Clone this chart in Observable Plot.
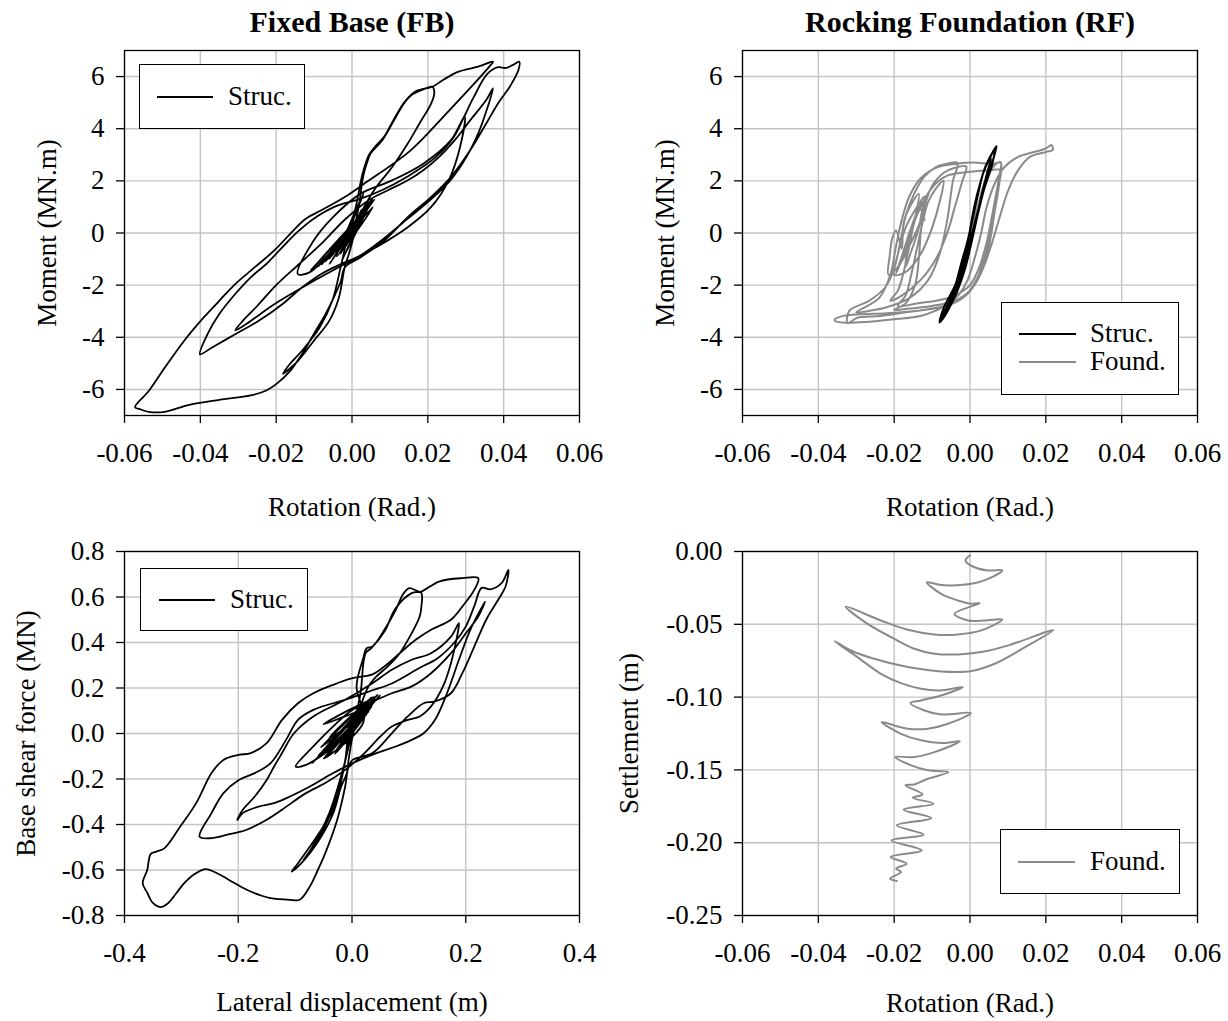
<!DOCTYPE html>
<html><head><meta charset="utf-8">
<script src="https://cdn.jsdelivr.net/npm/d3@7"></script>
<script src="https://cdn.jsdelivr.net/npm/@observablehq/plot@0.6"></script>
<style>
body{margin:0;background:#fff;}
#wrap{position:relative;width:1228px;height:1021px;background:#fff;font-family:"Liberation Serif","Times New Roman",serif;overflow:hidden;}
.panel{position:absolute;}
.legend{position:absolute;background:#fff;border:1.3px solid #000;box-sizing:border-box;}
.lg-line{position:absolute;height:2px;}
.lg-text{position:absolute;font-size:27px;line-height:27px;white-space:nowrap;color:#000;}
</style></head><body><div id="wrap"></div>
<script>
// ---------- tick values ----------
const rotTicks = [-0.06, -0.04, -0.02, 0, 0.02, 0.04, 0.06];
const momentTicks = [-6, -4, -2, 0, 2, 4, 6];
const dispTicks = [-0.4, -0.2, 0, 0.2, 0.4];
const shearTicks = [-0.8, -0.6, -0.4, -0.2, 0, 0.2, 0.4, 0.6, 0.8];
const settleTicks = [0, -0.05, -0.10, -0.15, -0.20, -0.25];

// ---------- Fixed base: rotation (rad) vs moment (MN.m), structure ----------
const fbMoment = [
[0,0],[0.0025,0.9],[-0.0015,-0.5],[0.0035,1.1],[-0.003,-0.8],[0.0045,1.2],[-0.0025,-1.0],[0.0055,1.35],[0.001,0.2],
[0.002,1.2],[0.003,2.2],[0.0042,2.8],[0.0049,3.05],[0.008,3.56],[0.0106,4.2],[0.0137,4.97],[0.0157,5.29],[0.0188,5.51],[0.0212,5.61],
[0.0217,5.36],[0.0209,4.97],[0.0178,4.2],[0.0147,3.43],[0.0106,2.53],[0.0064,1.76],[0.0033,1.0],[0.0007,-0.03],[-0.0008,-0.8],[-0.0019,-1.3],
[-0.0035,-2.5],[-0.006,-3.37],[-0.0101,-4.14],[-0.0143,-4.91],[-0.0182,-5.4],
[-0.0168,-5.1],[-0.0128,-4.45],[-0.0085,-3.62],[-0.0052,-2.6],[-0.003,-1.32],[-0.001,-0.03],[0.001,1.0],[0.0028,2.28],[0.0045,3.0],[0.006,3.3],[0.0085,3.7],[0.011,4.35],[0.014,5.05],[0.017,5.45],[0.0212,5.61],
[0.024,5.87],[0.0281,6.19],[0.0333,6.38],[0.0372,6.57],
[0.0361,6.36],[0.025,4.6],[0.0154,3.16],[0.0031,1.88],
[-0.0019,1.38],[-0.0081,0.87],[-0.0122,0.55],[-0.0163,-0.03],[-0.0205,-0.67],[-0.0257,-1.32],[-0.0308,-1.96],[-0.035,-2.6],[-0.0391,-3.24],[-0.0443,-4.14],[-0.0494,-5.17],[-0.0536,-6.06],[-0.0572,-6.68],
[-0.0557,-6.77],[-0.0536,-6.86],[-0.0494,-6.86],[-0.0432,-6.6],[-0.035,-6.4],[-0.0267,-6.23],[-0.0226,-6.04],[-0.0195,-5.74],[-0.0163,-5.29],[-0.0132,-4.65],[-0.0101,-3.88],[-0.007,-3.11],[-0.0044,-2.34],[-0.0029,-1.83],[-0.0019,-1.32],
[0.0023,-0.93],[0.0085,-0.29],[0.0147,0.61],[0.0209,1.38],[0.0261,2.15],[0.0312,3.18],[0.0354,4.2],[0.0385,4.97],[0.0416,5.61],[0.0439,6.25],[0.0441,6.57],
[0.0425,6.45],[0.0405,6.33],[0.0385,6.36],
[0.0357,6.1],[0.0321,5.21],[0.0295,4.44],[0.0268,3.67],[0.022,2.9],[0.015,2.2],[0.008,1.65],[0.002,1.3],
[-0.0039,1.05],[-0.0101,0.55],[-0.0143,0.05],[-0.0184,-0.55],[-0.0226,-1.19],[-0.0267,-1.7],[-0.0308,-2.34],[-0.035,-3.11],[-0.0381,-3.88],[-0.0401,-4.65],
[-0.037,-4.4],[-0.0308,-3.88],[-0.0246,-3.37],[-0.0184,-2.73],[-0.0132,-2.09],[-0.0081,-1.57],[-0.0029,-1.19],[0.0023,-0.85],[0.0085,-0.2],[0.0147,0.55],[0.0209,1.3],[0.0261,2.05],[0.0302,2.92],[0.0333,3.82],[0.0358,4.84],[0.0372,5.55],
[0.0354,5.1],[0.0312,4.33],[0.0271,3.56],[0.023,2.92],[0.0188,2.41],[0.0147,2.02],[0.0095,1.64],[0.0043,1.25],
[-0.002,0.5],[-0.008,-0.4],[-0.014,-1.2],[-0.02,-2.0],[-0.025,-2.8],[-0.0288,-3.37],[-0.0308,-3.73],
[-0.028,-3.5],[-0.0205,-2.73],[-0.0112,-1.93],[-0.0019,-1.19],[0.0064,-0.55],[0.0147,0.22],[0.0209,1.0],[0.0255,2.02],[0.0285,3.3],[0.0297,4.46],
[0.0261,3.56],[0.0188,2.66],[0.0106,2.02],[0.0023,1.51],[-0.005,0.61],[-0.0101,-0.29],[-0.0143,-1.57],[-0.0112,-1.51],[-0.007,-0.93],[-0.0029,-0.29],[0.0002,0.22],
[0.004,1.0],[-0.005,-0.8],[0.0055,1.25],[-0.006,-1.2],[0.002,0.6],[-0.004,-0.7],[0.003,0.9],[-0.001,-0.3],
[0.002,0.5],[-0.008,-1.2],[0.004,0.9],[-0.011,-1.45],[0.005,1.1],[-0.009,-1.3],[0.006,1.3],[-0.006,-1.0],[0.0045,1.2],[-0.004,-0.9],[0.003,1.5],[-0.002,-0.5],[0.0055,1.0],[-0.007,-1.1],[0.001,0.3],[0.0005,0.1]
];

// ---------- Fixed base: lateral displacement (m) vs base shear (MN), structure ----------
const fbShear = [
[0,0],[0.03,0.1],[-0.02,-0.05],[0.04,0.15],[-0.04,-0.09],[0.05,0.17],[-0.05,-0.11],[0.02,0.05],
[0.008,0.207],[0.019,0.324],[0.026,0.375],[0.036,0.382],[0.057,0.456],[0.077,0.544],[0.091,0.617],[0.101,0.639],[0.112,0.629],[0.122,0.617],
[0.122,0.558],[0.119,0.514],[0.105,0.441],[0.084,0.353],[0.063,0.295],[0.043,0.251],[0.029,0.207],[0.015,0.119],[0.001,-0.013],[-0.006,-0.116],[-0.009,-0.174],
[-0.019,-0.233],[-0.033,-0.35],[-0.054,-0.453],[-0.074,-0.526],[-0.095,-0.585],[-0.106,-0.607],
[-0.095,-0.57],[-0.074,-0.497],[-0.054,-0.423],[-0.033,-0.335],[-0.022,-0.24],[-0.01,-0.1],[0.005,0.06],[0.015,0.177],[0.024,0.353],[0.034,0.375],[0.057,0.448],[0.077,0.551],[0.105,0.617],[0.122,0.624],
[0.153,0.668],[0.194,0.683],[0.222,0.683],
[0.215,0.631],[0.194,0.558],[0.174,0.5],[0.139,0.456],[0.112,0.412],[0.084,0.353],[0.057,0.295],[0.036,0.26],
[0.001,0.243],[-0.033,0.214],[-0.068,0.177],[-0.095,0.133],[-0.123,0.06],[-0.15,-0.042],[-0.178,-0.086],[-0.199,-0.094],[-0.226,-0.116],[-0.247,-0.174],[-0.274,-0.306],[-0.302,-0.409],[-0.33,-0.505],[-0.345,-0.52],[-0.354,-0.53],[-0.36,-0.6],[-0.368,-0.658],
[-0.36,-0.7],[-0.35,-0.745],[-0.337,-0.763],[-0.323,-0.745],[-0.309,-0.702],[-0.295,-0.658],[-0.278,-0.62],[-0.257,-0.596],[-0.233,-0.62],[-0.209,-0.654],[-0.185,-0.687],[-0.16,-0.712],[-0.143,-0.724],[-0.109,-0.731],[-0.092,-0.731],[-0.074,-0.672],[-0.06,-0.6],[-0.047,-0.526],[-0.026,-0.379],[-0.012,-0.233],[-0.006,-0.145],
[0.001,-0.116],[0.036,-0.086],[0.07,0.001],[0.098,0.075],[0.126,0.133],[0.146,0.141],[0.174,0.177],[0.194,0.265],[0.215,0.382],[0.236,0.5],[0.257,0.588],[0.27,0.646],[0.275,0.719],
[0.263,0.661],[0.243,0.634],[0.228,0.64],
[0.215,0.56],[0.2,0.47],[0.18,0.4],[0.15,0.33],[0.12,0.29],[0.07,0.22],[0.036,0.19],[-0.01,0.15],[-0.068,0.104],[-0.095,0.06],[-0.116,-0.028],[-0.143,-0.13],[-0.171,-0.174],[-0.199,-0.204],[-0.226,-0.262],[-0.247,-0.35],[-0.268,-0.453],
[-0.247,-0.46],[-0.219,-0.445],[-0.185,-0.423],[-0.15,-0.379],[-0.123,-0.335],[-0.081,-0.262],[-0.047,-0.218],[-0.012,-0.16],[0.022,-0.086],[0.05,-0.013],[0.07,0.031],[0.098,0.06],[0.119,0.075],[0.139,0.119],[0.16,0.207],[0.174,0.309],[0.185,0.43],[0.188,0.485],
[0.174,0.426],[0.139,0.353],[0.105,0.324],[0.07,0.28],[0.036,0.221],[-0.012,0.148],[-0.068,0.075],[-0.102,0.001],[-0.123,-0.086],[-0.137,-0.145],[-0.15,-0.204],[-0.171,-0.277],[-0.192,-0.335],[-0.202,-0.38],
[-0.192,-0.35],[-0.164,-0.321],[-0.137,-0.306],[-0.109,-0.277],[-0.074,-0.233],[-0.033,-0.174],[0.001,-0.13],[0.043,-0.086],[0.077,-0.057],[0.105,-0.028],[0.126,0.001],[0.146,0.06],[0.167,0.177],[0.188,0.324],[0.208,0.456],[0.229,0.558],[0.234,0.58],
[0.222,0.514],[0.2,0.44],[0.174,0.353],[0.139,0.265],[0.105,0.207],[0.07,0.177],[0.036,0.141],[0.001,0.104],[-0.033,0.031],[-0.068,-0.057],[-0.099,-0.145],[-0.081,-0.138],[-0.047,-0.086],[-0.012,-0.013],
[-0.02,-0.22],[-0.05,-0.42],[-0.085,-0.555],[-0.07,-0.5],[-0.04,-0.35],[-0.015,-0.15],[0.01,0.1],
[0.04,0.16],[-0.03,-0.08],[0.035,0.12],[-0.045,-0.1],[0.02,0.08],[-0.02,-0.04],
[0.03,0.14],[-0.06,-0.1],[0.045,0.17],[-0.07,-0.13],[0.04,0.15],[-0.05,0.04],[0.02,0.1],[-0.055,-0.06],[0.035,0.16],[-0.04,-0.02],[0.015,0.06],[-0.03,-0.09],[0.025,0.13],[0,0]
];

// ---------- Rocking foundation: rotation (rad) vs moment (MN.m) ----------
const rfStrucMoment = [
[0,0],[0.0011,1.0],[0.0029,2.02],[0.0044,2.66],[0.006,3.11],[0.007,3.33],[0.0063,2.92],[0.005,2.28],[0.0034,1.51],[0.0019,0.61],[0.0003,-0.42],[-0.0012,-1.32],[-0.0033,-2.21],[-0.0054,-2.86],[-0.0069,-3.24],[-0.008,-3.43],
[-0.0069,-2.86],[-0.0038,-1.96],[-0.0018,-0.93],[-0.0002,-0.03],[0.0011,1.0],[0.0029,2.02],[0.0044,2.66],[0.0055,2.85],[0.0045,2.3],[0.003,1.4],[0.0015,0.4],[-0.0005,-0.8],[-0.0025,-1.8],[-0.0045,-2.6],[-0.0065,-3.1],[-0.0075,-3.3],
[-0.0055,-2.7],[-0.003,-1.8],[-0.001,-0.6],[0.0005,0.4],[0.002,1.4],[0.0035,2.3],[0.005,2.8],[0.0065,3.2],[0.0058,2.6],[0.004,1.8],[0.002,0.8],[0,-0.3],[-0.002,-1.3],[-0.004,-2.2],[-0.006,-2.9],[-0.007,-3.1],[-0.0045,-2.3],[-0.002,-1.0],[0,0]
];
const rfFoundMoment = [
[0,0],[0.002,1.0],[0.004,2.0],[0.0065,2.6],[0.0081,2.72],
[0.0075,2.0],[0.006,0.8],[0.0045,-0.5],[0.002,-1.7],[-0.002,-2.5],[-0.008,-2.85],[-0.015,-3.0],[-0.022,-3.08],[-0.029,-3.12],[-0.033,-3.17],[-0.0356,-3.3],[-0.0356,-3.37],
[-0.033,-3.44],[-0.0266,-3.4],[-0.0193,-3.3],[-0.0131,-3.18],[-0.009,-2.98],[-0.0059,-2.73],[-0.0028,-2.34],[-0.0007,-1.83],[0.0013,-0.93],[0.0029,-0.03],[0.0044,1.0],[0.0065,1.89],[0.0091,2.53],[0.0127,2.92],[0.0169,3.11],[0.02,3.24],[0.0215,3.37],[0.0218,3.18],[0.02,3.11],
[0.0158,2.92],[0.0127,2.41],[0.0101,1.64],[0.0081,0.74],[0.006,-0.29],[0.0039,-1.19],[0.0019,-1.83],[-0.0007,-2.34],[-0.0049,-2.73],[-0.0111,-2.92],[-0.0173,-3.05],[-0.0235,-3.18],[-0.0297,-3.25],[-0.0323,-3.46],
[-0.0318,-2.98],[-0.0266,-2.6],[-0.0224,-2.09],[-0.0199,-1.32],[-0.0183,-0.29],[-0.0168,0.74],[-0.0147,1.51],[-0.0121,2.15],[-0.009,2.53],[-0.0059,2.66],[-0.0033,2.69],
[-0.0045,2.0],[-0.006,0.5],[-0.008,-0.8],[-0.011,-1.8],[-0.016,-2.5],[-0.022,-2.85],[-0.027,-3.0],[-0.03,-3.05],
[-0.024,-2.5],[-0.021,-1.6],[-0.0195,-0.5],[-0.018,0.5],[-0.016,1.4],[-0.013,2.1],[-0.009,2.5],[-0.004,2.65],[0.001,2.7],[0.006,2.65],[0.0081,2.7],
[0.0078,2.0],[0.0065,0.8],[0.005,-0.5],[0.003,-1.5],[0,-2.2],[-0.004,-2.6],[-0.01,-2.8],[-0.016,-2.9],[-0.02,-2.95],
[-0.017,-2.7],[-0.0145,-2.0],[-0.0135,-1.0],[-0.013,0],[-0.012,1.0],[-0.01,1.8],[-0.007,2.3],[-0.004,2.5],[-0.001,2.55],
[-0.002,2.0],[-0.004,1.0],[-0.006,0],[-0.009,-1.0],[-0.013,-1.8],[-0.018,-2.4],[-0.021,-2.6],
[-0.019,-2.2],[-0.0175,-1.5],[-0.016,-0.5],[-0.0145,0.5],[-0.012,1.3],[-0.009,1.9],[-0.006,2.2],[0,2.35],[0.005,2.4],[0.008,2.41],
[0.0075,1.8],[0.006,0.8],[0.0045,-0.3],[0.0025,-1.3],[0,-2.0],[-0.004,-2.4],[-0.009,-2.6],[-0.014,-2.7],[-0.019,-2.8],
[-0.017,-2.4],[-0.0155,-1.6],[-0.014,-0.6],[-0.0125,0.4],[-0.011,1.2],[-0.009,1.7],[-0.007,2.0],
[-0.008,1.2],[-0.01,0.2],[-0.013,-0.8],[-0.017,-1.5],[-0.02,-1.6],[-0.019,-0.8],[-0.017,0.2],[-0.014,1.0],[-0.012,1.4],[-0.013,0.5],[-0.016,-0.5],[-0.019,-1.3],[-0.0215,-1.6],[-0.0212,-0.9],[-0.0205,-0.2],[-0.0195,0.1],[-0.018,-0.6],[-0.0175,0.4],[-0.0155,1.1],[-0.0135,1.5],[-0.0145,0.6],[-0.0165,-0.4],[-0.0185,-1.2],[-0.0195,-1.55],[-0.018,-0.9],[-0.016,0],[-0.014,0.8],[-0.0125,1.2],[-0.0135,0.2],[-0.0155,-0.7],[-0.017,-1.3],[-0.0165,-0.6],[-0.015,0.3],[-0.013,0.9],[-0.012,0.5]
];

// ---------- Rocking foundation: rotation (rad) vs settlement (m) ----------
const rfSettlement = [
[0,-0.0027],[-0.0012,-0.0062],[0.0012,-0.0108],[0.0048,-0.013],[0.0085,-0.013],
[0.0048,-0.0188],[0.0004,-0.0222],[-0.0049,-0.0233],[-0.008,-0.0229],[-0.0114,-0.0211],
[-0.0076,-0.0291],[-0.0032,-0.0336],[0.0004,-0.0359],[0.0026,-0.0355],
[-0.0041,-0.0428],[-0.0005,-0.0474],[0.0039,-0.0474],[0.0085,-0.0467],
[0.003,-0.0542],[-0.0032,-0.057],[-0.0094,-0.057],[-0.0164,-0.0538],[-0.0235,-0.0474],[-0.0328,-0.0378],
[-0.027,-0.0497],[-0.0208,-0.0588],[-0.0147,-0.0668],[-0.0094,-0.0702],[-0.0032,-0.0707],[0.003,-0.0691],[0.0101,-0.0645],[0.022,-0.054],
[0.0145,-0.0657],[0.0065,-0.0771],[0.0004,-0.0821],[-0.0076,-0.0824],[-0.0164,-0.0794],[-0.0253,-0.0737],[-0.0314,-0.068],[-0.0357,-0.0616],
[-0.0297,-0.0725],[-0.0235,-0.084],[-0.0182,-0.0904],[-0.0129,-0.0943],[-0.0076,-0.0954],[-0.0019,-0.0931],
[-0.0076,-0.0989],[-0.0129,-0.1023],[-0.0157,-0.1041],
[-0.012,-0.1092],[-0.0076,-0.1119],[0.0002,-0.111],
[-0.0058,-0.1183],[-0.0111,-0.1217],[-0.0164,-0.1217],[-0.0233,-0.1172],
[-0.0182,-0.1252],[-0.0129,-0.1297],[-0.0076,-0.1316],[-0.0027,-0.1304],
[-0.0094,-0.1378],[-0.0147,-0.1412],[-0.0197,-0.1412],
[-0.0155,-0.1469],[-0.0111,-0.1503],[-0.0057,-0.1515],
[-0.0111,-0.1561],[-0.0147,-0.16],[-0.017,-0.1606],
[-0.0125,-0.1668],[-0.0151,-0.1691],[-0.0096,-0.1732],[-0.0175,-0.1773],[-0.0102,-0.1831],[-0.0193,-0.1881],[-0.0122,-0.1945],[-0.0207,-0.1984],[-0.0127,-0.2053],[-0.0209,-0.2098],[-0.0167,-0.2144],[-0.0195,-0.2178],[-0.0182,-0.2201],[-0.0211,-0.2247],[-0.0193,-0.2263]
];

// ---------- styles ----------
const BLACK = "#000000", GRAY = "#8a8a8a", GRID = "#c4c4c4";
const FONT = "'Liberation Serif','Times New Roman',serif";

function panel(o) {
  const marks = [
    Plot.gridX(o.xTicks, {stroke: GRID, strokeOpacity: 1, strokeWidth: 1.4}),
    Plot.gridY(o.yTicks, {stroke: GRID, strokeOpacity: 1, strokeWidth: 1.4}),
    ...o.series.map(s => Plot.line(s.data, {x: d => d[0], y: d => d[1], stroke: s.color, strokeWidth: s.width, curve: s.curve || "linear", strokeLinejoin: "round", strokeLinecap: "round"})),
    Plot.frame({stroke: "#000", strokeWidth: 1.3}),
    Plot.axisX(o.xTicks, {tickFormat: o.xFmt, tickSize: 8, tickPadding: 19, fontSize: 27, label: null, stroke: "#000", strokeWidth: 1.3}),
    Plot.axisY(o.yTicks, {tickFormat: o.yFmt, tickSize: 8, tickPadding: 12, fontSize: 27, label: null, stroke: "#000", strokeWidth: 1.3}),
    Plot.text([o.xLabel], {frameAnchor: "bottom", dy: o.xLabelDy, fontSize: 27, textAnchor: "middle", lineAnchor: "middle"}),
    Plot.text([o.yLabel], {frameAnchor: "left", dx: o.yLabelDx, rotate: -90, fontSize: 27, textAnchor: "middle", lineAnchor: "middle"})
  ];
  if (o.title) marks.push(Plot.text([o.title], {frameAnchor: "top", dy: -28, fontSize: 30, fontWeight: "bold", textAnchor: "middle", lineAnchor: "middle"}));
  return Plot.plot({
    width: o.width, height: o.height,
    marginLeft: o.ml, marginRight: o.mr, marginTop: o.mt, marginBottom: o.mb,
    x: {domain: o.xDomain}, y: {domain: o.yDomain},
    style: {fontFamily: FONT, fontSize: "27px", color: "#000", background: "transparent", overflow: "visible"},
    marks
  });
}

const wrap = document.getElementById("wrap");
function place(node, left, top) {
  node.classList.add("panel");
  node.style.left = left + "px";
  node.style.top = top + "px";
  wrap.appendChild(node);
}
const fmt2 = d => d.toFixed(2), fmt1 = d => d.toFixed(1), fmt0 = d => d.toFixed(0);

place(panel({
  width: 614, height: 510, ml: 124, mr: 35, mt: 50, mb: 95,
  xDomain: [-0.06, 0.06], yDomain: [-7, 7], xTicks: rotTicks, yTicks: momentTicks, xFmt: fmt2, yFmt: fmt0,
  series: [{data: fbMoment, color: BLACK, width: 1.8, curve: "catmull-rom"}],
  xLabel: "Rotation (Rad.)", xLabelDy: 92, yLabel: "Moment (MN.m)", yLabelDx: -77, title: "Fixed Base (FB)"
}), 0, 0);

place(panel({
  width: 614, height: 510, ml: 128, mr: 31, mt: 50, mb: 95,
  xDomain: [-0.06, 0.06], yDomain: [-7, 7], xTicks: rotTicks, yTicks: momentTicks, xFmt: fmt2, yFmt: fmt0,
  series: [{data: rfFoundMoment, color: GRAY, width: 2, curve: "catmull-rom"}, {data: rfStrucMoment, color: BLACK, width: 2, curve: "catmull-rom"}],
  xLabel: "Rotation (Rad.)", xLabelDy: 92, yLabel: "Moment (MN.m)", yLabelDx: -77, title: "Rocking Foundation (RF)"
}), 614, 0);

place(panel({
  width: 614, height: 511, ml: 124, mr: 35, mt: 41, mb: 106,
  xDomain: [-0.4, 0.4], yDomain: [-0.8, 0.8], xTicks: dispTicks, yTicks: shearTicks, xFmt: fmt1, yFmt: fmt1,
  series: [{data: fbShear, color: BLACK, width: 1.8, curve: "catmull-rom"}],
  xLabel: "Lateral displacement (m)", xLabelDy: 87, yLabel: "Base shear force (MN)", yLabelDx: -98
}), 0, 510);

place(panel({
  width: 614, height: 511, ml: 128, mr: 31, mt: 41, mb: 106,
  xDomain: [-0.06, 0.06], yDomain: [-0.25, 0], xTicks: rotTicks, yTicks: settleTicks, xFmt: fmt2, yFmt: fmt2,
  series: [{data: rfSettlement, color: GRAY, width: 2, curve: "catmull-rom"}],
  xLabel: "Rotation (Rad.)", xLabelDy: 88, yLabel: "Settlement (m)", yLabelDx: -113
}), 614, 510);

// ---------- legends ----------
function legend(left, top, w, h, rows) {
  const box = document.createElement("div");
  box.className = "legend";
  Object.assign(box.style, {left: left + "px", top: top + "px", width: w + "px", height: h + "px"});
  rows.forEach(r => {
    const ln = document.createElement("div");
    ln.className = "lg-line";
    Object.assign(ln.style, {left: r.lx + "px", width: r.lw + "px", top: (r.ly - 1) + "px", background: r.color});
    box.appendChild(ln);
    const tx = document.createElement("div");
    tx.className = "lg-text";
    tx.textContent = r.label;
    Object.assign(tx.style, {left: r.tx + "px", top: (r.base - 22.6) + "px"});
    box.appendChild(tx);
  });
  wrap.appendChild(box);
}
legend(139, 64, 166, 65, [{label: "Struc.", color: BLACK, lx: 17, lw: 56, ly: 32, tx: 88, base: 41}]);
legend(140, 568, 168, 63, [{label: "Struc.", color: BLACK, lx: 18, lw: 56, ly: 31, tx: 89, base: 40}]);
legend(1001, 302, 178, 93, [
  {label: "Struc.", color: BLACK, lx: 17, lw: 57, ly: 31, tx: 88, base: 40},
  {label: "Found.", color: GRAY, lx: 17, lw: 57, ly: 59, tx: 88, base: 68}
]);
legend(1000, 829, 180, 65, [{label: "Found.", color: GRAY, lx: 17, lw: 57, ly: 32, tx: 89, base: 41}]);
</script></body></html>
